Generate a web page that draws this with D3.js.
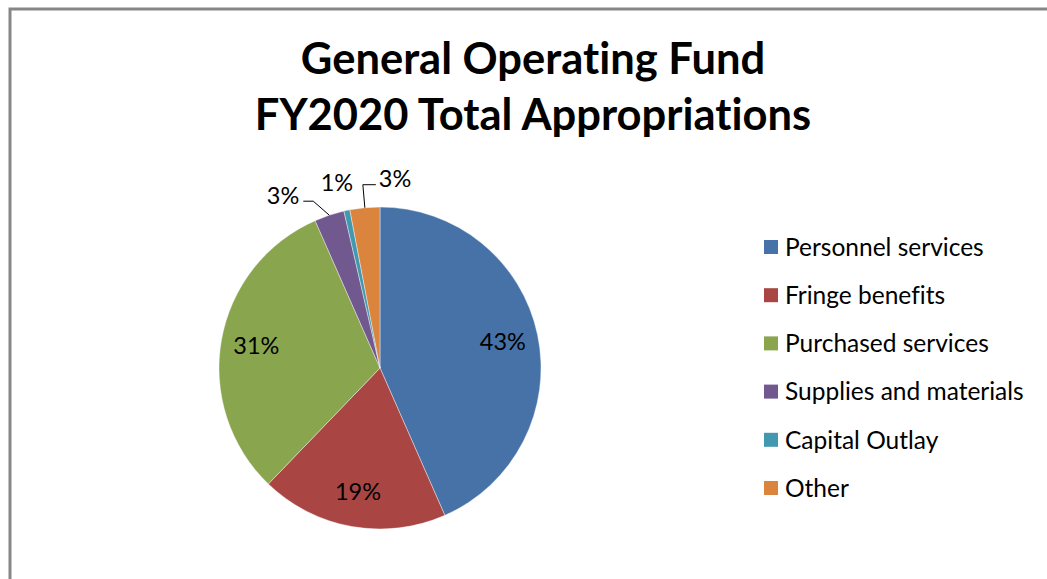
<!DOCTYPE html>
<html>
<head>
<meta charset="utf-8">
<script src="https://cdn.jsdelivr.net/npm/d3@7"></script>
<style>
  body { margin: 0; background: #fff; }
  text { font-family: Lato, "Open Sans", sans-serif; fill: #000; font-variant-ligatures: none; }
</style>
</head>
<body>
<svg id="chart" width="1047" height="579"></svg>
<script>
// chart data
const titleLines = ['General Operating Fund', 'FY2020 Total Appropriations'];
const categories = ['Personnel services', 'Fringe benefits', 'Purchased services',
                    'Supplies and materials', 'Capital Outlay', 'Other'];
const shares = [43.4, 18.8, 31.2, 3.0, 0.6, 3.0];
const shareLabels = ['43%', '19%', '31%', '3%', '1%', '3%'];
const colors = ['#4672A8', '#A94643', '#89A54E', '#71588F', '#4198AF', '#DB843D'];

const width = 1047, height = 579;
const cx = 380, cy = 368, radius = 161;

const svg = d3.select('#chart');

// outer frame
svg.append('rect')
    .attr('x', 10).attr('y', 9)
    .attr('width', width + 20).attr('height', height + 20)
    .attr('fill', 'none')
    .attr('stroke', '#878787')
    .attr('stroke-width', 3);

// title
svg.append('text')
    .attr('x', 533).attr('y', 74)
    .attr('text-anchor', 'middle')
    .style('font-weight', 'bold')
    .style('font-size', '43.5px')
    .selectAll('tspan')
    .data(titleLines)
    .join('tspan')
    .attr('x', 533)
    .attr('dy', (d, i) => i === 0 ? 0 : 56)
    .text(d => d);

const rows = categories.map((c, i) => ({ name: c, value: shares[i], label: shareLabels[i], color: colors[i] }));

const pie = d3.pie().sort(null).value(d => d.value);
const arc = d3.arc().innerRadius(0).outerRadius(radius);
const arcs = pie(rows);

const g = svg.append('g').attr('transform', `translate(${cx},${cy})`);

g.selectAll('path.slice')
    .data(arcs)
    .join('path')
    .attr('class', 'slice')
    .attr('d', arc)
    .attr('fill', d => d.data.color)
    .attr('stroke', '#fff')
    .attr('stroke-width', 0.4);

// inside labels for the large slices
const inner = d3.arc().innerRadius(radius * 0.78).outerRadius(radius * 0.78);
g.selectAll('text.inside')
    .data(arcs.filter(d => d.data.value > 5))
    .join('text')
    .attr('class', 'inside')
    .attr('transform', d => `translate(${inner.centroid(d)})`)
    .attr('text-anchor', 'middle')
    .attr('dy', '0.35em')
    .style('font-size', '23.5px')
    .text(d => d.data.label);

// outside labels for the small slices (hand placed like the original)
const outsideLayout = {
    'Supplies and materials': { lineDy: -14, elbowDx: -16, labelDx: -30, anchor: 'end', line: true },
    'Capital Outlay': { lineDy: -28, elbowDx: 0, labelDx: -10, anchor: 'middle', line: false },
    'Other': { lineDy: -23, elbowDx: -2, labelDx: 14, anchor: 'start', line: true }
};
const edgePoint = d => {
    const a = (d.startAngle + d.endAngle) / 2;
    return [Math.sin(a) * radius, -Math.cos(a) * radius];
};
const small = arcs.filter(d => d.data.value <= 5);

g.selectAll('path.leader')
    .data(small.filter(d => outsideLayout[d.data.name].line))
    .join('path')
    .attr('class', 'leader')
    .attr('fill', 'none')
    .attr('stroke', '#000')
    .attr('stroke-width', 1)
    .attr('d', d => {
        const o = outsideLayout[d.data.name];
        const [x, y] = edgePoint(d);
        const endX = x + o.labelDx + (o.anchor === 'end' ? 4 : -3);
        return `M${x},${y}L${x + o.elbowDx},${y + o.lineDy}L${endX},${y + o.lineDy}`;
    });

g.selectAll('text.outside')
    .data(small)
    .join('text')
    .attr('class', 'outside')
    .attr('x', d => edgePoint(d)[0] + outsideLayout[d.data.name].labelDx)
    .attr('y', d => edgePoint(d)[1] + outsideLayout[d.data.name].lineDy)
    .attr('text-anchor', d => outsideLayout[d.data.name].anchor)
    .attr('dy', d => outsideLayout[d.data.name].line ? '0.1em' : '0.35em')
    .style('font-size', '23.5px')
    .text(d => d.data.label);

// legend
const legendY = d3.scalePoint().domain(categories).range([247, 488]);
const legend = svg.append('g')
    .selectAll('g')
    .data(rows)
    .join('g')
    .attr('transform', d => `translate(764,${legendY(d.name)})`);

legend.append('rect')
    .attr('x', 0).attr('y', -7)
    .attr('width', 14).attr('height', 14)
    .attr('fill', d => d.color);

legend.append('text')
    .attr('x', 21)
    .attr('dy', '0.36em')
    .style('font-size', '24.5px')
    .text(d => d.name);
</script>
</body>
</html>
